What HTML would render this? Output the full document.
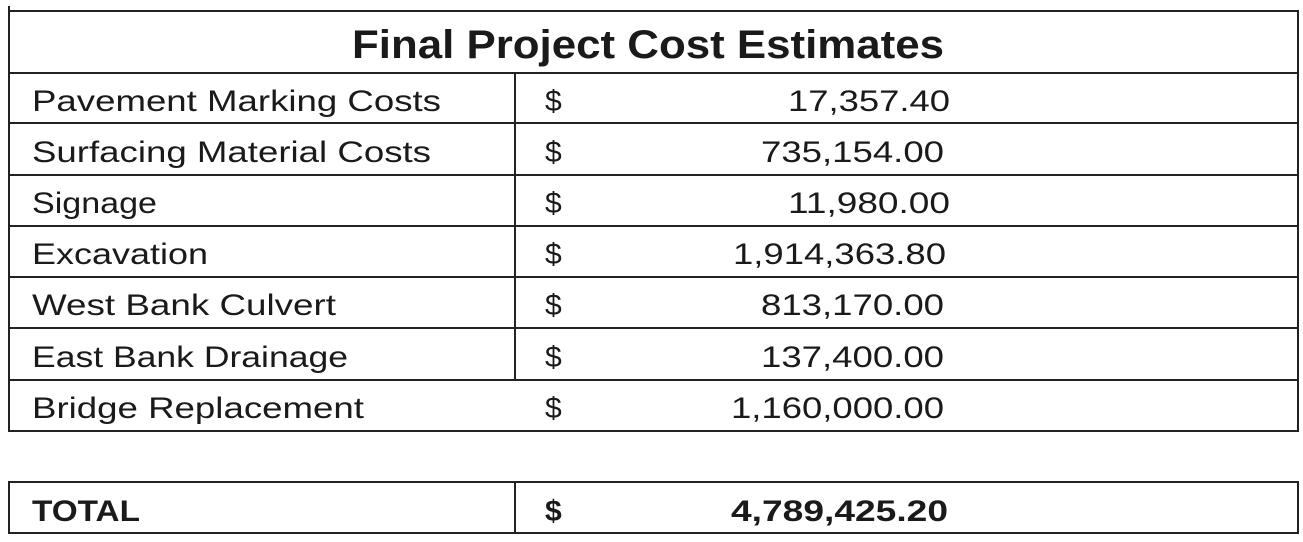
<!DOCTYPE html>
<html><head><meta charset="utf-8"><style>
html,body{margin:0;padding:0;background:#fff;width:1303px;height:542px;overflow:hidden}
svg{display:block}
text{font-family:"Liberation Sans",sans-serif;fill:#1a1a1a}
</style></head><body>
<svg width="1303" height="542">
<g stroke="#222" stroke-width="2" fill="none">
<rect x="9" y="11" width="1289" height="420"/>
<line x1="9" y1="73" x2="1298" y2="73"/>
<line x1="9" y1="123" x2="1298" y2="123"/>
<line x1="9" y1="175" x2="1298" y2="175"/>
<line x1="9" y1="226" x2="1298" y2="226"/>
<line x1="9" y1="277" x2="1298" y2="277"/>
<line x1="9" y1="328" x2="1298" y2="328"/>
<line x1="9" y1="380" x2="1298" y2="380"/>
<line x1="515" y1="73" x2="515" y2="380"/>
<rect x="9" y="482" width="1289" height="51"/>
<line x1="515" y1="482" x2="515" y2="533"/>
</g>
<line x1="9" y1="6" x2="9" y2="11" stroke="#222" stroke-width="2"/>
<text x="352" y="58" font-size="40" font-weight="bold" textLength="592" lengthAdjust="spacingAndGlyphs">Final Project Cost Estimates</text>
<g font-size="30">
<g>
<text x="32" y="111" textLength="409" lengthAdjust="spacingAndGlyphs">Pavement Marking Costs</text>
<text x="545" y="111">$</text>
<text x="950" y="111" text-anchor="end" textLength="162" lengthAdjust="spacingAndGlyphs">17,357.40</text></g>
<g>
<text x="32" y="162" textLength="399" lengthAdjust="spacingAndGlyphs">Surfacing Material Costs</text>
<text x="545" y="162">$</text>
<text x="944" y="162" text-anchor="end" textLength="183" lengthAdjust="spacingAndGlyphs">735,154.00</text></g>
<g>
<text x="32" y="213" textLength="125" lengthAdjust="spacingAndGlyphs">Signage</text>
<text x="545" y="213">$</text>
<text x="950" y="213" text-anchor="end" textLength="162" lengthAdjust="spacingAndGlyphs">11,980.00</text></g>
<g>
<text x="32" y="264" textLength="176" lengthAdjust="spacingAndGlyphs">Excavation</text>
<text x="545" y="264">$</text>
<text x="946" y="264" text-anchor="end" textLength="213" lengthAdjust="spacingAndGlyphs">1,914,363.80</text></g>
<g>
<text x="32" y="315" textLength="304" lengthAdjust="spacingAndGlyphs">West Bank Culvert</text>
<text x="545" y="315">$</text>
<text x="944" y="315" text-anchor="end" textLength="183" lengthAdjust="spacingAndGlyphs">813,170.00</text></g>
<g>
<text x="32" y="367" textLength="316" lengthAdjust="spacingAndGlyphs">East Bank Drainage</text>
<text x="545" y="367">$</text>
<text x="944" y="367" text-anchor="end" textLength="183" lengthAdjust="spacingAndGlyphs">137,400.00</text></g>
<g>
<text x="32" y="418" textLength="332" lengthAdjust="spacingAndGlyphs">Bridge Replacement</text>
<text x="545" y="418">$</text>
<text x="944" y="418" text-anchor="end" textLength="213" lengthAdjust="spacingAndGlyphs">1,160,000.00</text></g>
</g>
<g font-size="30" font-weight="bold">
<text x="32" y="521" textLength="108" lengthAdjust="spacingAndGlyphs">TOTAL</text>
<text x="545" y="521">$</text>
<text x="948" y="521" text-anchor="end" textLength="217" lengthAdjust="spacingAndGlyphs">4,789,425.20</text>
</g>
</svg>
</body></html>
